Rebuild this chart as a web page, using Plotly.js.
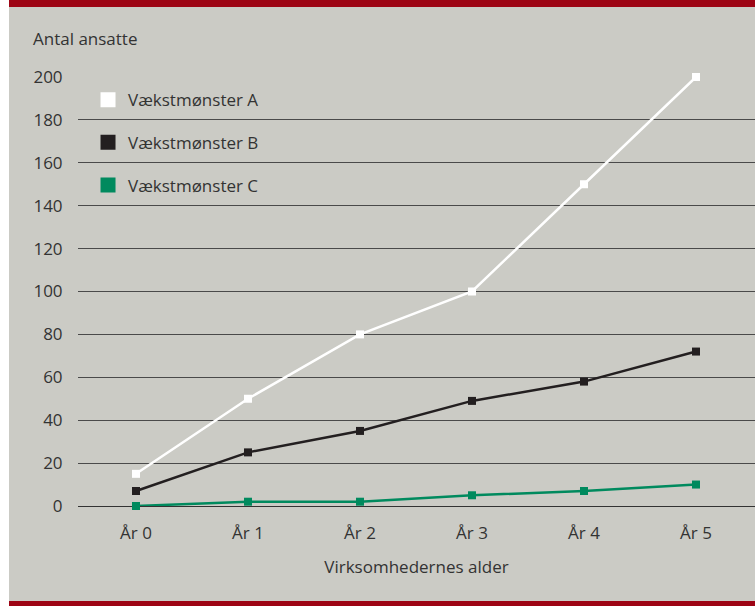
<!DOCTYPE html>
<html>
<head>
<meta charset="utf-8">
<script src="https://cdn.plot.ly/plotly-3.0.1.min.js"></script>
<style>
  html, body { margin: 0; padding: 0; background: #ffffff; }
  #wrap { position: relative; width: 755px; height: 606px; overflow: hidden; }
  #chart { position: absolute; left: 0; top: 0; width: 755px; height: 606px; }
  .strip { position: absolute; background: #ffffff; left: 0; top: 0; width: 9px; height: 606px; }
  .bar { position: absolute; left: 9px; width: 746px; background: #9d0414; }
</style>
</head>
<body>
<div id="wrap">
  <div id="chart"></div>
  <div class="strip"></div>
  <div class="bar" style="top:0;height:7px;"></div>
  <div class="bar" style="top:601px;height:5px;"></div>
</div>
<script>
const categories = ["År 0", "År 1", "År 2", "År 3", "År 4", "År 5"];
const seriesNames = ["Vækstmønster A", "Vækstmønster B", "Vækstmønster C"];
const seriesA = [15, 50, 80, 100, 150, 200];
const seriesB = [7, 25, 35, 49, 58, 72];
const seriesC = [0, 2, 2, 5, 7, 10];
const yTicks = [0, 20, 40, 60, 80, 100, 120, 140, 160, 180, 200];
const colors = ["#ffffff", "#231f20", "#008a5e"];

const xIdx = categories.map((c, i) => i);
const allSeries = [seriesA, seriesB, seriesC];
const FS = 17;
const TXT = "#333333";

const traces = [];
allSeries.forEach((vals, k) => {
  traces.push({
    x: xIdx, y: vals, type: "scatter", mode: "lines+markers",
    line: { color: colors[k], width: 2.5 },
    marker: { color: colors[k], size: 8, symbol: "square" },
    showlegend: false, cliponaxis: false, hoverinfo: "skip"
  });
});
allSeries.forEach((vals, k) => {
  traces.push({
    x: [null], y: [null], type: "scatter", mode: "markers",
    name: seriesNames[k], legendgroup: "g" + k,
    marker: { color: colors[k], size: 15, symbol: "square" },
    showlegend: true
  });
});

const layout = {
  width: 755, height: 606,
  margin: { l: 78, r: 0, t: 77, b: 100, pad: 0 },
  paper_bgcolor: "#cbcbc5",
  plot_bgcolor: "#cbcbc5",
  font: { family: "Open Sans, Noto Sans, sans-serif", size: FS, color: TXT },
  showlegend: true,
  legend: {
    x: 0.0148, xanchor: "left", y: 0.988, yanchor: "top",
    bgcolor: "rgba(0,0,0,0)", borderwidth: 0,
    tracegroupgap: 17.5,
    font: { size: FS, color: TXT }
  },
  xaxis: {
    range: [-0.518, 5.527],
    tickvals: xIdx, ticktext: categories,
    showgrid: false, zeroline: false, showline: false,
    ticks: "outside", ticklen: 12, tickcolor: "rgba(0,0,0,0)",
    tickfont: { size: FS, color: TXT },
    title: { text: "Virksomhedernes alder", font: { size: FS, color: TXT }, standoff: 17 },
    fixedrange: true
  },
  yaxis: {
    range: [0, 200],
    tickvals: yTicks,
    showgrid: true, gridcolor: "#4a4a4a", gridwidth: 1,
    zeroline: true, zerolinecolor: "#333333", zerolinewidth: 1,
    showline: false,
    ticks: "outside", ticklen: 11, tickcolor: "rgba(0,0,0,0)",
    tickfont: { size: FS, color: TXT },
    fixedrange: true
  },
  annotations: [{
    text: "Antal ansatte", xref: "paper", yref: "paper",
    x: -0.069, y: 1.09, xanchor: "left", yanchor: "middle",
    showarrow: false, font: { size: FS, color: TXT }
  }]
};

Plotly.newPlot("chart", traces, layout, { displayModeBar: false, staticPlot: true });
</script>
</body>
</html>
